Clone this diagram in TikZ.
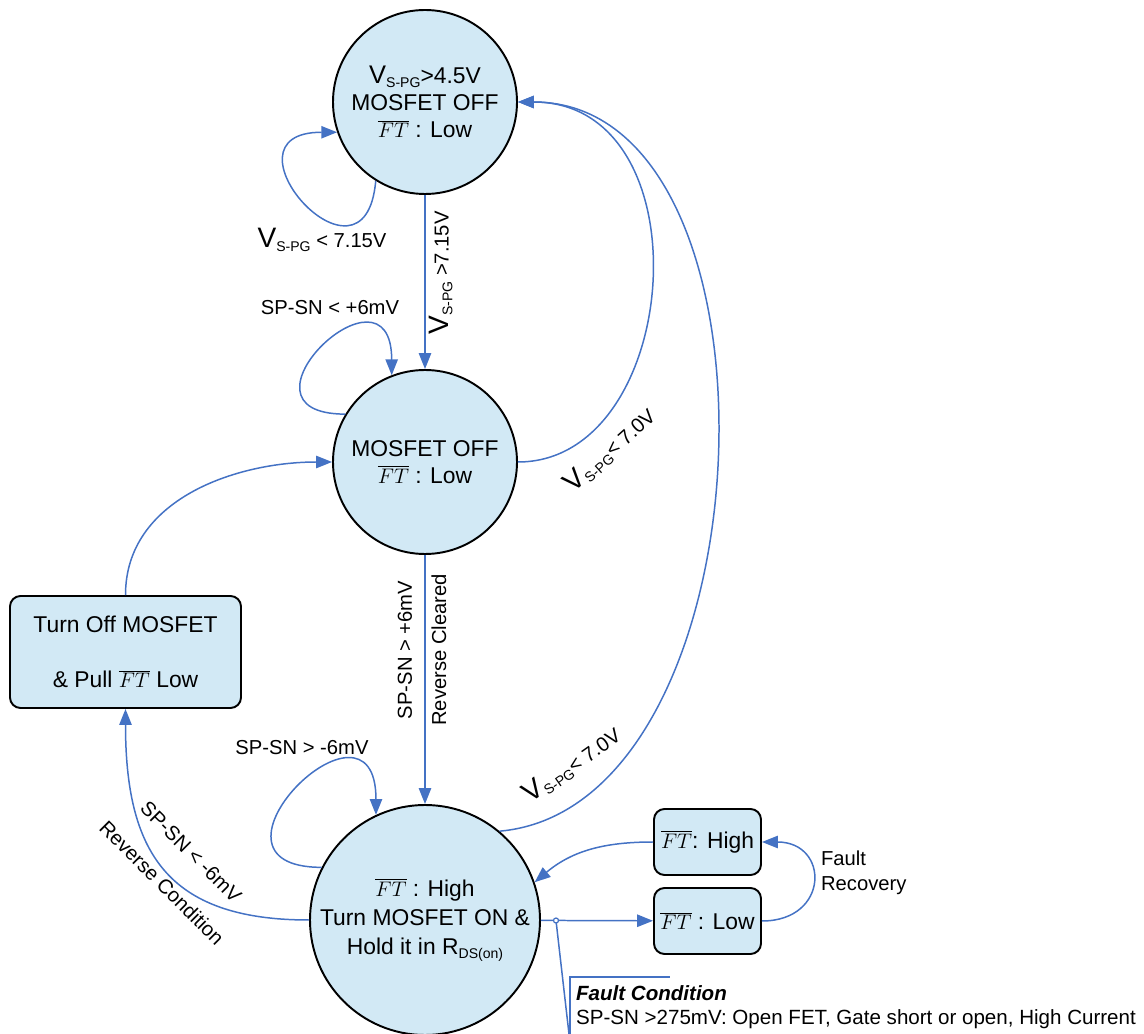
\documentclass[tikz,border=0pt]{standalone}
\usepackage{fontspec}
\setmainfont{Liberation Sans}
\usetikzlibrary{arrows.meta}
\definecolor{stfill}{RGB}{210,233,245}
\definecolor{lnblue}{RGB}{68,114,196}
\newcommand{\vspg}[1]{{\fontsize{#1}{#1}\selectfont V}\raisebox{-0.35ex}{\fontsize{8}{9}\selectfont S-PG}}
\newcommand{\ftbar}{$\overline{FT}$}
\tikzset{
  state/.style={circle,draw=black,line width=1.1pt,fill=stfill,inner sep=0pt,align=center,font=\fontsize{13}{15.5}\selectfont},
  act/.style={rectangle,rounded corners=6pt,draw=black,line width=1.1pt,fill=stfill,inner sep=0pt,align=center,font=\fontsize{13}{15.5}\selectfont},
  conn/.style={draw=lnblue,line width=0.85pt,-{Triangle[length=9pt,width=7pt]}},
  lbl/.style={inner sep=1pt,font=\fontsize{11.5}{14}\selectfont},
}
\begin{document}
\begin{tikzpicture}
  \useasboundingbox (0,0) rectangle (22.88,-20.68);
  \node[state,minimum size=3.68cm] (top) at (8.5,-2.04) {\vspg{14.5}>4.5V\\MOSFET OFF\\\ftbar{} : Low};
  \node[state,minimum size=3.68cm] (mid) at (8.5,-9.24) {MOSFET OFF\\\ftbar{} : Low};
  \node[state,minimum size=4.6cm] (bot) at (8.5,-18.4) {\ftbar{} : High\\[1pt]Turn MOSFET ON \&\\[1pt]Hold it in R\raisebox{-0.35ex}{\fontsize{8}{9}\selectfont DS(on)}};
  \node[act,minimum width=4.62cm,minimum height=2.24cm] (offbox) at (2.51,-13.04) {Turn Off MOSFET\\[16pt]\& Pull \ftbar{} Low};
  \node[act,minimum width=2.14cm,minimum height=1.32cm] (hbox) at (14.15,-16.84) {\ftbar: High};
  \node[act,minimum width=2.14cm,minimum height=1.32cm] (lbox) at (14.15,-18.42) {\ftbar{} : Low};

  \node[lbl] (vlow) at (6.44,-4.8) {\vspg{16} < 7.15V};
  \node[lbl] (spa) at (6.6,-6.16) {SP-SN < +6mV};
  \node[lbl,rotate=90] (vhigh) at (8.82,-5.46) {\vspg{16} >7.15V};
  \node[lbl,rotate=90] (spb) at (8.1,-13.0) {SP-SN > +6mV};
  \node[lbl,rotate=90] (rclr) at (8.78,-13.0) {Reverse Cleared};
  \node[lbl,rotate=42] (vdropa) at (12.2,-9.0) {\vspg{16}< 7.0V};
  \node[lbl,rotate=35] (vdropb) at (11.44,-15.3) {\vspg{16}< 7.0V};
  \node[lbl] (spc) at (6.04,-14.96) {SP-SN > -6mV};
  \node[lbl,rotate=-45] (spd) at (3.82,-17.04) {SP-SN < -6mV};
  \node[lbl,rotate=-45] (rcnd) at (3.24,-17.66) {Reverse Condition};
  \node[lbl,anchor=west,align=left] (frec) at (16.38,-17.46) {Fault\\Recovery};
  \node[lbl,anchor=west,align=left,font=\fontsize{11.7}{14}\selectfont] (fcnd) at (11.48,-20.14) {\textbf{\textit{Fault Condition}}\\SP-SN >275mV: Open FET, Gate short or open, High Current};

  \draw[conn] (top.238) to[out=265,in=180,distance=2.5cm] (top.199);
  \draw[conn] (mid.149) to[out=180,in=90,distance=2.5cm] (mid.111);
  \draw[conn] (bot.153) to[out=180,in=90,distance=2.8cm] (bot.115);
  \draw[conn] (top) -- (mid);
  \draw[conn] (mid) -- (bot);
  \draw[conn] (mid.east) to[out=0,in=0,out distance=3.3cm,in distance=3.8cm] (top.east);
  \draw[conn] (bot.50) to[out=5,in=0,out distance=5.5cm,in distance=5.6cm] (top.east);
  \draw[conn] (offbox.north) to[out=90,in=180] (mid.west);
  \draw[conn] (bot.west) to[out=180,in=270,looseness=1.3] (offbox.south);
  \draw[conn] (hbox.west) to[out=180,in=40] (bot.19);
  \draw[conn] (bot) -- (lbox);
  \draw[conn] (lbox.east) to[out=0,in=0,looseness=2.2] (hbox.east);

  \coordinate (tap) at (11.12,-18.41);
  \coordinate (foot) at (11.38,-20.68);
  \coordinate (brkb) at (11.4,-20.68);
  \coordinate (brkr) at (13.4,-19.54);
  \draw[lnblue,line width=0.85pt] (tap) -- (foot);
  \draw[lnblue,line width=0.85pt] (brkb) |- (brkr);
  \draw[lnblue,line width=0.7pt,fill=white] (tap) circle (0.05);
\end{tikzpicture}
\end{document}
